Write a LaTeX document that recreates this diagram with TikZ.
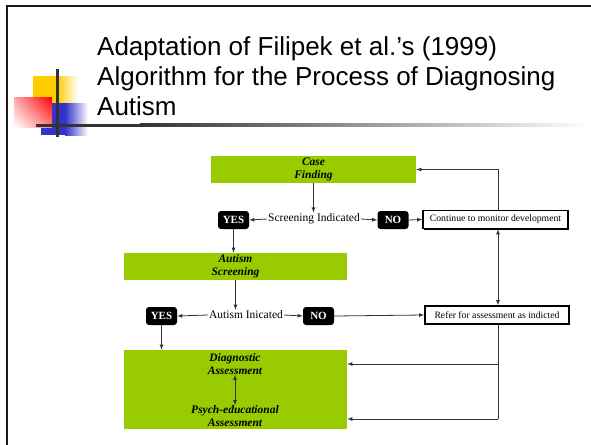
\documentclass[tikz,border=0pt]{standalone}
\usepackage{fontspec}
\setmainfont{Liberation Serif}
\newfontfamily\titlefont{Liberation Sans}
\usetikzlibrary{shadows,shadings}
\definecolor{leafgreen}{HTML}{99CC00}
\definecolor{decoyellow}{HTML}{FFCC00}
\definecolor{decored}{HTML}{FF0000}
\definecolor{decoblue}{HTML}{3333CC}
\definecolor{linegrey}{HTML}{333333}

\begin{document}
\begin{tikzpicture}[x=1pt, y=-1pt]
\tikzset{edge/.style = {->, >=latex, line width=.8pt, draw=linegrey}}
\tikzset{stagebox/.style = {fill=leafgreen, inner sep=0pt, align=center, font=\fontsize{11.5}{13}\selectfont\bfseries\itshape}}
\tikzset{answer/.style = {fill=black, text=white, rounded corners=3pt, minimum width=31, minimum height=18, inner sep=0pt, font=\fontsize{11}{12}\selectfont\bfseries}}
\tikzset{outcome/.style = {draw, line width=1.4pt, fill=white, minimum height=18, inner sep=0pt, font=\fontsize{9.7}{11}\selectfont, drop shadow={shadow xshift=1pt, shadow yshift=-1pt, fill=black, opacity=1}}}
\tikzset{question/.style = {inner sep=1pt, font=\fontsize{11.5}{13}\selectfont}}

\useasboundingbox[fill=white] (0,0) rectangle (591,444);

% slide frame and title bullet
\draw[line width=2pt, black!90] (7,446) -- (7,6) -- (593,6);
\fill[decoyellow] (33,76) rectangle (57,103);
\shade[left color=decoyellow, right color=white] (57,76) rectangle (78,103);
\fill[decoblue] (41,103) rectangle (65,135);
\shade[left color=decoblue, right color=white] (65,103) rectangle (88,135);
\shade[upper right=decored, lower left=white, upper left=decored!35, lower right=decored!50] (14,97) rectangle (52,127);
\fill[linegrey] (36,123.5) rectangle (140,126.5);
\shade[left color=linegrey, right color=white] (140,123.5) rectangle (591,126.5);
\fill[linegrey] (55.5,69) rectangle (58.5,137);

\node[anchor=north west, inner sep=0pt, align=left, font=\titlefont\fontsize{26}{30}\selectfont] (title) at (97,36)
  {Adaptation of Filipek et al.’s (1999)\\Algorithm for the Process of Diagnosing\\Autism};

% stages
\node[stagebox, minimum width=205, minimum height=27] (casefind) at (313.5,169.5) {Case\\Finding};
\node[question] (screenq) at (314,219) {Screening Indicated};
\node[answer] (yesa) at (233.5,220) {YES};
\node[answer] (noa) at (393,220) {NO};
\node[outcome, minimum width=145] (monitor) at (495.5,219.5) {Continue to monitor development};

\node[stagebox, minimum width=223, minimum height=27] (autscreen) at (235.5,266.5) {Autism\\Screening};
\node[question] (autq) at (246,315) {Autism Inicated};
\node[answer] (yesb) at (161.5,316) {YES};
\node[answer] (nob) at (318.5,316) {NO};
\node[outcome, minimum width=144] (refer) at (497,315) {Refer for assessment as indicted};

\node[stagebox, minimum width=223, minimum height=79] (assess) at (235.5,389.5) {};
\node[stagebox, fill=none] (diagtxt) at (235,364) {Diagnostic\\Assessment};
\node[stagebox, fill=none] (psychtxt) at (235,416) {Psych-educational\\Assessment};

\coordinate (rtop) at (498,170);
\coordinate (rmid) at (498,364);
\coordinate (rbot) at (498,419);

% connectors
\draw[edge] (casefind.south) -- (casefind.south |- screenq.north);
\draw[edge] (screenq.west) -- (yesa.east);
\draw[edge] (screenq.east) -- (noa.west);
\draw[edge] (noa.east) -- (monitor.west);
\draw[edge] (monitor.north -| rtop) |- (casefind.east);
\draw[edge, <->] (monitor.south -| rtop) -- (refer.north -| rtop);
\draw[edge] (yesa.south) -- (yesa.south |- autscreen.north);
\draw[edge] (autscreen.south) -- (autscreen.south |- autq.north);
\draw[edge] (autq.west) -- (yesb.east);
\draw[edge] (autq.east) -- (nob.west);
\draw[edge] (nob.east) -- (refer.west);
\draw[edge] (yesb.south) -- (yesb.south |- assess.north);
\draw[line width=.8pt, draw=linegrey] (refer.south -| rbot) -- (rbot);
\draw[edge] (rmid) -- (rmid -| assess.east);
\draw[edge] (rbot) -- (rbot -| assess.east);
\draw[edge, <->] (diagtxt.south) -- (psychtxt.north);

\end{tikzpicture}
\end{document}
